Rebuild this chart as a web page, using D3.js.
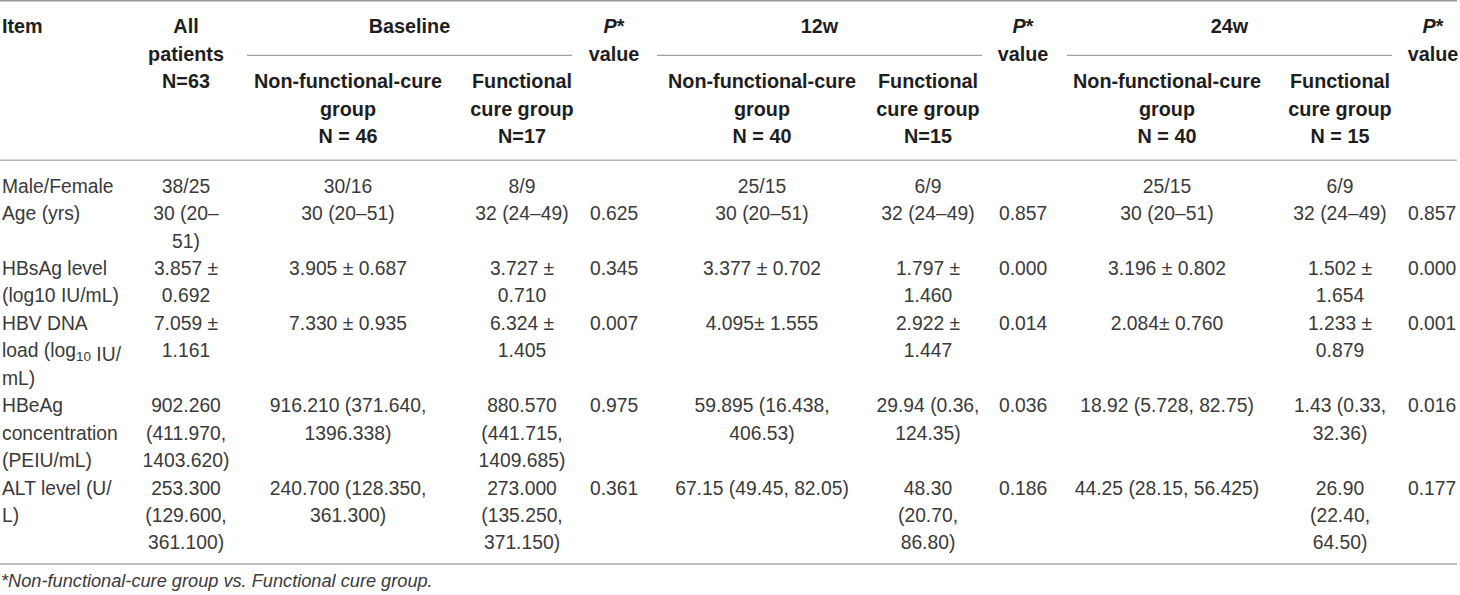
<!DOCTYPE html>
<html>
<head>
<meta charset="utf-8">
<script src="https://cdn.jsdelivr.net/npm/d3@7"></script>
<style>
  html, body { margin: 0; padding: 0; background: #fff; }
  svg { display: block; }
  text { font-family: "Liberation Sans", Arial, Helvetica, sans-serif; }
</style>
</head>
<body>
<svg id="chart" width="1460" height="595"></svg>
<script>
// ---------- data ----------
const itemHeader = ["Item"];
const allHeader = ["All", "patients", "N=63"];
const timepoints = ["Baseline", "12w", "24w"];
const nonHeaders = [["Non-functional-cure", "group", "N = 46"], ["Non-functional-cure", "group", "N = 40"], ["Non-functional-cure", "group", "N = 40"]];
const funHeaders = [["Functional", "cure group", "N=17"], ["Functional", "cure group", "N=15"], ["Functional", "cure group", "N = 15"]];
const pHeader = ["P*", "value"];

const items = [
  ["Male/Female"],
  ["Age (yrs)"],
  ["HBsAg level", "(log10 IU/mL)"],
  ["HBV DNA", "load (log_{10} IU/", "mL)"],
  ["HBeAg", "concentration", "(PEIU/mL)"],
  ["ALT level (U/", "L)"]
];
const rowLines = [1, 2, 2, 3, 3, 3];

const allPatients = [["38/25"], ["30 (20–", "51)"], ["3.857 ±", "0.692"], ["7.059 ±", "1.161"], ["902.260", "(411.970,", "1403.620)"], ["253.300", "(129.600,", "361.100)"]];
const baseNon = [["30/16"], ["30 (20–51)"], ["3.905 ± 0.687"], ["7.330 ± 0.935"], ["916.210 (371.640,", "1396.338)"], ["240.700 (128.350,", "361.300)"]];
const baseFun = [["8/9"], ["32 (24–49)"], ["3.727 ±", "0.710"], ["6.324 ±", "1.405"], ["880.570", "(441.715,", "1409.685)"], ["273.000", "(135.250,", "371.150)"]];
const pBase = ["", "0.625", "0.345", "0.007", "0.975", "0.361"];
const w12Non = [["25/15"], ["30 (20–51)"], ["3.377 ± 0.702"], ["4.095± 1.555"], ["59.895 (16.438,", "406.53)"], ["67.15 (49.45, 82.05)"]];
const w12Fun = [["6/9"], ["32 (24–49)"], ["1.797 ±", "1.460"], ["2.922 ±", "1.447"], ["29.94 (0.36,", "124.35)"], ["48.30", "(20.70,", "86.80)"]];
const p12 = ["", "0.857", "0.000", "0.014", "0.036", "0.186"];
const w24Non = [["25/15"], ["30 (20–51)"], ["3.196 ± 0.802"], ["2.084± 0.760"], ["18.92 (5.728, 82.75)"], ["44.25 (28.15, 56.425)"]];
const w24Fun = [["6/9"], ["32 (24–49)"], ["1.502 ±", "1.654"], ["1.233 ±", "0.879"], ["1.43 (0.33,", "32.36)"], ["26.90", "(22.40,", "64.50)"]];
const p24 = ["", "0.857", "0.000", "0.001", "0.016", "0.177"];

const footnote = "*Non-functional-cure group vs. Functional cure group.";

// ---------- layout via scales ----------
const svg = d3.select("#chart");
const colKeys = ["item", "all", "bNon", "bFun", "pB", "12Non", "12Fun", "p12", "24Non", "24Fun", "p24"];
const colX = d3.scaleOrdinal().domain(colKeys).range([2, 186, 348, 522, 590, 762, 928, 999, 1167, 1340, 1408]);
const pHeadX = d3.scaleOrdinal().domain(["pB", "p12", "p24"]).range([614, 1023, 1433]);
const groupSpan = d3.scaleOrdinal().domain(timepoints).range([[247, 572], [657, 982], [1067, 1392]]);
const headY = d3.scaleLinear().domain([0, 1]).range([33, 60.5]);
const bodyY = d3.scaleLinear().domain([0, 1]).range([192.6, 220.05]);

const bodySize = 19.3, headSize = 19.8;
const bodyFill = "#3a3a3a", headFill = "#1e1e1e";

function addLines(g, lines, x, y0, yScale, anchor, opts) {
  lines.forEach((ln, i) => {
    const t = g.append("text")
      .attr("x", x).attr("y", yScale(y0 + i))
      .attr("text-anchor", anchor)
      .attr("font-size", opts.size)
      .attr("font-weight", opts.weight || "normal")
      .attr("fill", opts.fill);
    // support _{..} subscripts
    const parts = ln.split(/(_\{[^}]*\})/);
    parts.forEach(p => {
      if (!p) return;
      if (p.startsWith("_{")) {
        t.append("tspan").attr("font-size", opts.size * 0.7).attr("dy", 4).text(p.slice(2, -1));
        t.append("tspan").attr("dy", -4).text("");
      } else {
        t.append("tspan").text(p);
      }
    });
  });
}

// ---------- rules ----------
const rules = svg.append("g");
rules.append("line").attr("x1", 0).attr("x2", 1457).attr("y1", 0.8).attr("y2", 0.8).attr("stroke", "#9a9a9a").attr("stroke-width", 1.6);
rules.append("line").attr("x1", 0).attr("x2", 1457).attr("y1", 160.2).attr("y2", 160.2).attr("stroke", "#b8b8b8").attr("stroke-width", 1.6);
rules.append("line").attr("x1", 0).attr("x2", 1457).attr("y1", 564).attr("y2", 564).attr("stroke", "#a8a8a8").attr("stroke-width", 1.6);
timepoints.forEach(tp => {
  const [a, b] = groupSpan(tp);
  rules.append("line").attr("x1", a).attr("x2", b).attr("y1", 55.3).attr("y2", 55.3).attr("stroke", "#8a8a8a").attr("stroke-width", 1);
});

// ---------- header ----------
const head = svg.append("g");
const hOpts = { size: headSize, weight: "bold", fill: headFill };
addLines(head, itemHeader, colX("item"), 0, headY, "start", hOpts);
addLines(head, allHeader, colX("all"), 0, headY, "middle", hOpts);
timepoints.forEach((tp, i) => {
  const [a, b] = groupSpan(tp);
  addLines(head, [tp], (a + b) / 2, 0, headY, "middle", hOpts);
  addLines(head, nonHeaders[i], colX(["bNon", "12Non", "24Non"][i]), 2, headY, "middle", hOpts);
  addLines(head, funHeaders[i], colX(["bFun", "12Fun", "24Fun"][i]), 2, headY, "middle", hOpts);
});
["pB", "p12", "p24"].forEach(k => {
  const t = head.append("text").attr("x", pHeadX(k)).attr("y", headY(0)).attr("text-anchor", "middle")
    .attr("font-size", headSize).attr("font-weight", "bold").attr("fill", headFill);
  t.append("tspan").attr("font-style", "italic").text(pHeader[0].charAt(0));
  t.append("tspan").text(pHeader[0].slice(1));
  addLines(head, [pHeader[1]], pHeadX(k), 1, headY, "middle", hOpts);
});

// ---------- body ----------
const body = svg.append("g");
const bOpts = { size: bodySize, fill: bodyFill };
const starts = rowLines.map((n, i) => d3.sum(rowLines.slice(0, i)));
const centered = [["all", allPatients], ["bNon", baseNon], ["bFun", baseFun], ["12Non", w12Non], ["12Fun", w12Fun], ["24Non", w24Non], ["24Fun", w24Fun]];
const pcols = [["pB", pBase], ["p12", p12], ["p24", p24]];
items.forEach((it, r) => {
  addLines(body, it, colX("item"), starts[r], bodyY, "start", bOpts);
  centered.forEach(([k, arr]) => addLines(body, arr[r], colX(k), starts[r], bodyY, "middle", bOpts));
  pcols.forEach(([k, arr]) => { if (arr[r]) addLines(body, [arr[r]], colX(k), starts[r], bodyY, "start", bOpts); });
});

// ---------- footnote ----------
svg.append("text").attr("x", 1).attr("y", 587).attr("font-size", 18.2).attr("font-style", "italic")
  .attr("fill", bodyFill).text(footnote);
</script>
</body>
</html>
